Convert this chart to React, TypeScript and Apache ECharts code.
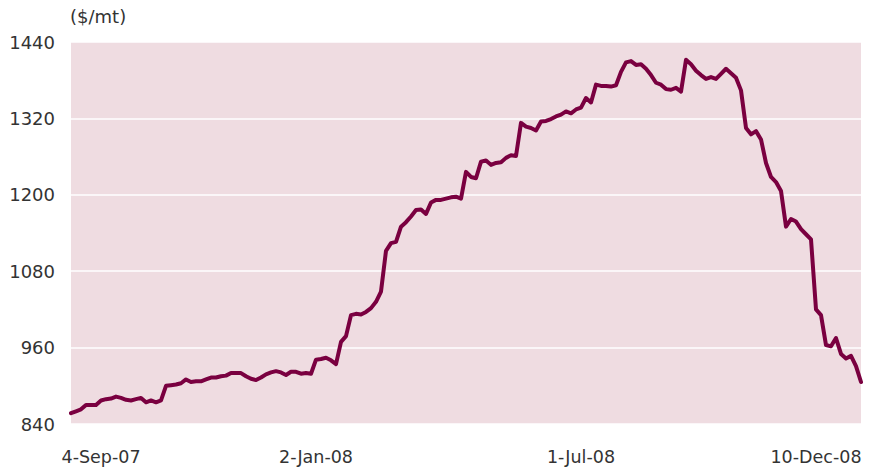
import React, { useEffect, useRef } from "react";
import * as echarts from "echarts";

const values: number[] = [
  857, 860, 863, 870, 870, 870, 877, 879, 880, 883,
  881, 878, 877, 879, 881, 874, 877, 874, 877, 900,
  901, 902, 904, 910, 906, 907, 907, 910, 913, 913,
  915, 916, 920, 920, 920, 915, 911, 909, 913, 918,
  921, 923, 921, 917, 922, 922, 919, 920, 919, 941,
  942, 944, 940, 934, 969, 978, 1011, 1013, 1012, 1016,
  1022, 1032, 1048, 1112, 1124, 1126, 1150, 1157, 1166, 1176,
  1177, 1170, 1188, 1192, 1192, 1194, 1196, 1197, 1194, 1236,
  1228, 1226, 1252, 1254, 1247, 1250, 1251, 1258, 1262, 1261,
  1313, 1307, 1305, 1301, 1315, 1316, 1319, 1323, 1326, 1331,
  1328, 1334, 1337, 1352, 1345, 1373, 1371, 1371, 1370, 1372,
  1393, 1408, 1410, 1404, 1405, 1398, 1388, 1376, 1373, 1366,
  1365, 1368, 1362, 1412, 1405, 1395, 1388, 1382, 1385, 1382,
  1390, 1398, 1391, 1384, 1364, 1305, 1295, 1300, 1287, 1250,
  1228, 1220, 1206, 1150, 1162, 1158, 1146, 1138, 1130, 1020,
  1011, 964, 962, 975, 950, 943, 947, 931, 906,
];

const categories: string[] = values.map((_, i) => String(i));

const xTickLabels: string[] = ["4-Sep-07", "2-Jan-08", "1-Jul-08", "10-Dec-08"];
const xTickIndices: number[] = [6, 49, 102, 149];

const yMin = 840;
const yMax = 1440;
const yInterval = 120;
const unitLabel = "($/mt)";

const FONT = "DejaVu Sans";
const TEXT_COLOR = "#333333";

export default function App() {
  const ref = useRef<HTMLDivElement>(null);

  useEffect(() => {
    if (!ref.current) return;
    const chart = echarts.init(ref.current, null, { renderer: "svg" });
    chart.setOption({
      animation: false,
      backgroundColor: "#ffffff",
      grid: {
        left: 71,
        right: 11,
        top: 42,
        bottom: 46,
        show: true,
        backgroundColor: "#efdce1",
        borderWidth: 0,
      },
      graphic: [
        {
          type: "text",
          left: 70,
          top: 7,
          style: {
            text: unitLabel,
            fontFamily: FONT,
            fontSize: 18,
            fill: TEXT_COLOR,
          },
        },
      ],
      xAxis: {
        type: "category",
        data: categories,
        boundaryGap: false,
        axisLine: { show: false },
        axisTick: { show: false },
        splitLine: { show: false },
        axisLabel: {
          interval: (idx: number) => xTickIndices.indexOf(idx) >= 0,
          formatter: (_v: string, idx: number) => {
            const k = xTickIndices.indexOf(idx);
            return k >= 0 ? xTickLabels[k] : "";
          },
          margin: 24,
          fontFamily: FONT,
          fontSize: 17.5,
          color: TEXT_COLOR,
          hideOverlap: false,
        },
      },
      yAxis: {
        type: "value",
        min: yMin,
        max: yMax,
        interval: yInterval,
        axisLine: { show: false },
        axisTick: { show: false },
        splitLine: { show: true, lineStyle: { color: "#ffffff", width: 1.5 } },
        axisLabel: {
          margin: 16,
          formatter: (v: number) => String(v),
          fontFamily: FONT,
          fontSize: 18,
          color: TEXT_COLOR,
        },
      },
      series: [
        {
          type: "line",
          data: values,
          showSymbol: false,
          symbol: "none",
          lineStyle: { color: "#7a0040", width: 4, join: "round", cap: "round" },
        },
      ],
    });
    return () => chart.dispose();
  }, []);

  return (
    <div
      ref={ref}
      style={{ position: "fixed", left: 0, top: 0, width: 872, height: 470 }}
    />
  );
}
